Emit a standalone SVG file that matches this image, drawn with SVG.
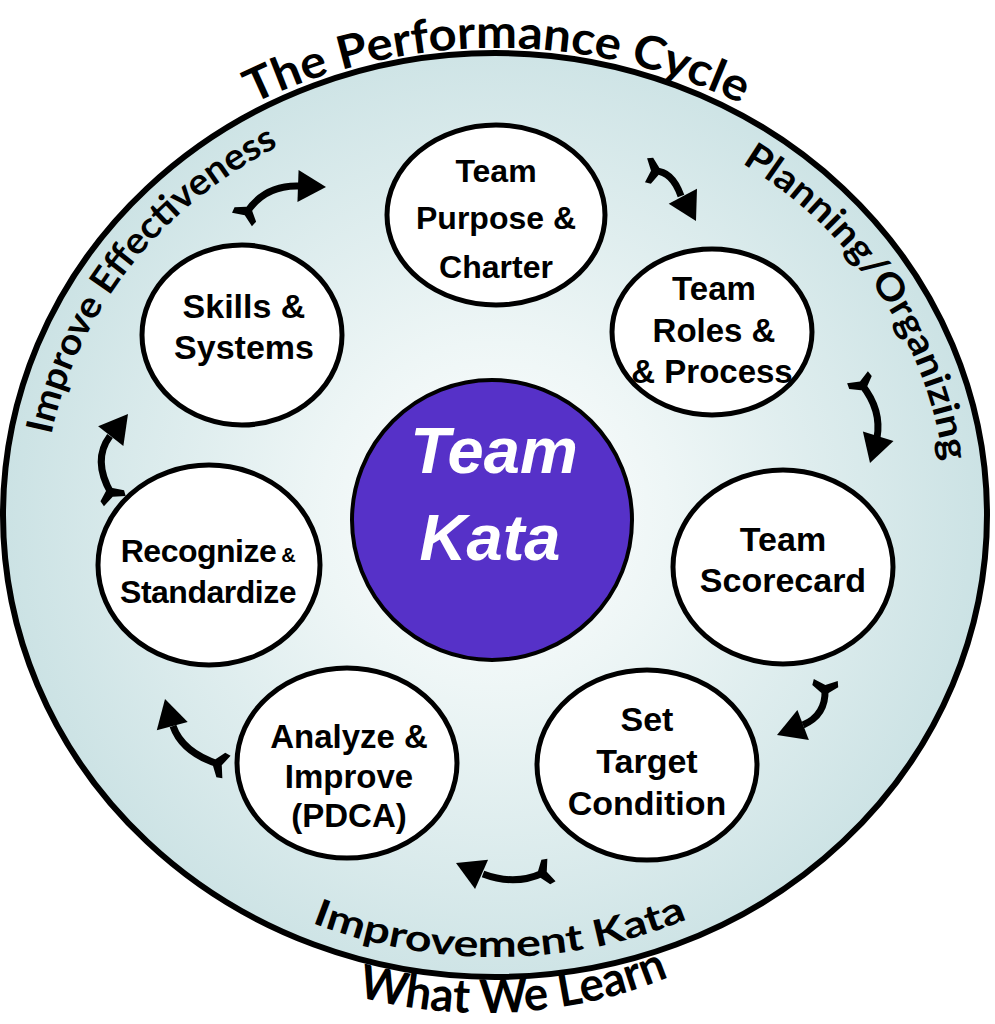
<svg xmlns="http://www.w3.org/2000/svg" width="995" height="1024" viewBox="0 0 995 1024">
<defs>
<radialGradient id="bg" cx="495" cy="515" r="494" gradientUnits="userSpaceOnUse">
<stop offset="0" stop-color="#ffffff"/>
<stop offset="0.35" stop-color="#eef6f6"/>
<stop offset="1" stop-color="#cbe2e4"/>
</radialGradient>
<polygon id="head" points="0,0 -28,-16 -28,16"/>
<polygon id="tail" points="4,-3.5 -3,-13 -9,-12 -4,0 -9,12 -3,13 4,3.5"/>
<path id="pTitle" d="M217,123 A560,560 0 0 1 777,123"/>
<path id="pLeft" d="M44.1,485.7 A452,420 0 0 1 325.7,125.6"/>
<path id="pRight" d="M707.2,144.2 A452,420 0 0 1 946.7,500.3"/>
<path id="pImp" d="M257.5,897.8 A475,442 0 0 0 732.5,897.8"/>
<path id="pLearn" d="M240,947.4 A490,490 0 0 0 730,947.4"/>
</defs>
<style>
.node ellipse{fill:#ffffff;stroke:#000000;stroke-width:5}
.node text{font-family:"Liberation Sans",Arial,sans-serif;font-weight:bold;text-anchor:middle;fill:#000000}
.arc{font-family:Lato,"Open Sans",sans-serif;font-weight:bold;fill:#000000;text-anchor:middle}
.conn path{fill:none;stroke:#000000;stroke-width:7}
.conn use{fill:#000000}
</style>
<g id="background">
<ellipse cx="495" cy="515" rx="492" ry="462" fill="url(#bg)" stroke="#000000" stroke-width="6"/>
</g>
<g id="labels">
<text class="arc" font-size="46"><textPath href="#pTitle" startOffset="50%" textLength="505" lengthAdjust="spacingAndGlyphs">The Performance Cycle</textPath></text>
<text class="arc" font-size="37"><textPath href="#pLeft" startOffset="50%" textLength="380" lengthAdjust="spacingAndGlyphs">Improve Effectiveness</textPath></text>
<text class="arc" font-size="37"><textPath href="#pRight" startOffset="50%" textLength="372" lengthAdjust="spacingAndGlyphs">Planning/Organizing</textPath></text>
<text class="arc" font-size="37"><textPath href="#pImp" startOffset="51%" textLength="385" lengthAdjust="spacingAndGlyphs">Improvement Kata</textPath></text>
<text class="arc" font-size="47"><textPath href="#pLearn" startOffset="55.8%" textLength="318" lengthAdjust="spacingAndGlyphs">What We Learn</textPath></text>
</g>
<g id="connectors" class="conn">
<path d="M247,212 Q265,185 299,186"/>
<use href="#tail" transform="translate(247,212) rotate(-56)"/>
<use href="#head" transform="translate(326,187) rotate(2)"/>
<path d="M655,171 C668,171 676,182 681,196"/>
<use href="#tail" transform="translate(655,171) rotate(5)"/>
<use href="#head" transform="translate(696,221) rotate(62)"/>
<path d="M862,385 Q882,410 877,438"/>
<use href="#tail" transform="translate(862,385) rotate(60)"/>
<use href="#head" transform="translate(870,463) rotate(107)"/>
<path d="M825,690 Q826,715 803,725"/>
<use href="#tail" transform="translate(825,689) rotate(95)"/>
<use href="#head" transform="translate(777,735) rotate(159)"/>
<path d="M543,873 Q515,886 483,874"/>
<use href="#tail" transform="translate(543,873) rotate(160)"/>
<use href="#head" transform="translate(456,863) rotate(204)"/>
<path d="M218,764 Q182,752 173,726"/>
<use href="#tail" transform="translate(218,764) rotate(200)"/>
<use href="#head" transform="translate(165,699) rotate(-105)"/>
<path d="M111,493 Q92,460 110,436"/>
<use href="#tail" transform="translate(111,493) rotate(-115)"/>
<use href="#head" transform="translate(128,414) rotate(-52)"/>
</g>
<g id="node-purpose" class="node">
<ellipse cx="496" cy="215" rx="109" ry="90"/>
<text x="496" y="182" font-size="32">Team</text>
<text x="496" y="229" font-size="32">Purpose &amp;</text>
<text x="496" y="278" font-size="32">Charter</text>
</g>
<g id="node-roles" class="node">
<ellipse cx="712" cy="332" rx="100" ry="83"/>
<text x="714" y="300" font-size="33">Team</text>
<text x="714" y="342" font-size="33">Roles &amp;</text>
<text x="712" y="383" font-size="33">&amp; Process</text>
</g>
<g id="node-scorecard" class="node">
<ellipse cx="783" cy="567" rx="110" ry="97"/>
<text x="783" y="551" font-size="34">Team</text>
<text x="783" y="592" font-size="34">Scorecard</text>
</g>
<g id="node-target" class="node">
<ellipse cx="647" cy="765" rx="110" ry="95"/>
<text x="647" y="731" font-size="34">Set</text>
<text x="647" y="773" font-size="34">Target</text>
<text x="647" y="815" font-size="34">Condition</text>
</g>
<g id="node-analyze" class="node">
<ellipse cx="347" cy="763" rx="110" ry="95"/>
<text x="349" y="748" font-size="33">Analyze &amp;</text>
<text x="349" y="788" font-size="33">Improve</text>
<text x="349" y="827" font-size="33">(PDCA)</text>
</g>
<g id="node-recognize" class="node">
<ellipse cx="209" cy="565" rx="111" ry="100"/>
<text x="208" y="562" font-size="32" letter-spacing="-0.5">Recognize<tspan font-size="20"> &amp;</tspan></text>
<text x="208" y="603" font-size="32" letter-spacing="-0.5">Standardize</text>
</g>
<g id="node-skills" class="node">
<ellipse cx="242" cy="335" rx="100" ry="90"/>
<text x="244" y="318" font-size="34">Skills &amp;</text>
<text x="244" y="359" font-size="34">Systems</text>
</g>
<g id="node-kata" class="node">
<ellipse cx="492" cy="520" rx="140" ry="140" style="fill:#5631c8;stroke:#000000;stroke-width:4"/>
<text x="494" y="473" font-size="65" font-style="italic" style="fill:#ffffff">Team</text>
<text x="490" y="560" font-size="65" font-style="italic" style="fill:#ffffff">Kata</text>
</g>
</svg>
